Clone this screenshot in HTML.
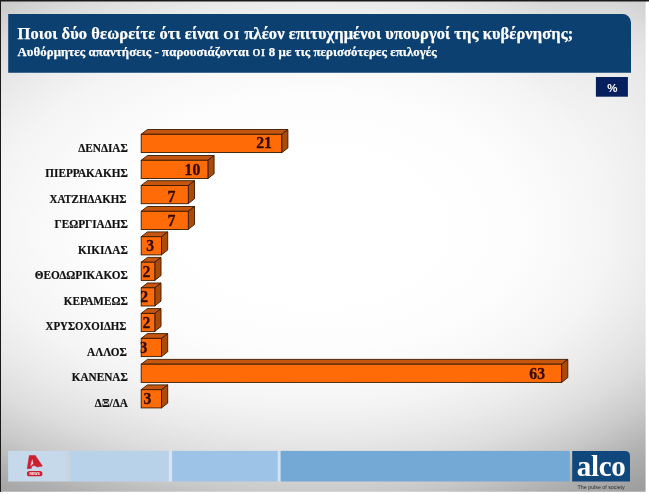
<!DOCTYPE html>
<html lang="el"><head><meta charset="utf-8"><title>alco</title>
<style>
html,body{margin:0;padding:0;background:#fff;}
body{width:649px;height:494px;position:relative;overflow:hidden;font-family:"Liberation Serif",serif;}
#frame{position:absolute;left:0;top:0;width:1px;height:492px;background:#1c1a18;}
#topb{position:absolute;left:0;top:0;width:649px;height:1px;background:#1c1a18;}
#topb2{position:absolute;left:0;top:1px;width:649px;height:1px;background:rgba(28,26,24,.5);}
#wr{position:absolute;left:645px;top:2px;width:1px;height:490px;background:rgba(255,255,255,.4);}
#wb{position:absolute;left:1px;top:491px;width:645px;height:1px;background:rgba(255,255,255,.25);}
#slide{position:absolute;left:1px;top:1px;width:645px;height:491px;
 background:radial-gradient(ellipse 110px 170px at 100% 50px, rgba(255,255,255,.42) 0%, rgba(255,255,255,.3) 40%, rgba(255,255,255,0) 100%) 0 0 / 100% 100% no-repeat,
 radial-gradient(ellipse 838px 502px at 320.0px 231.0px, rgb(255,255,255) 0.0%, rgb(255,255,255) 6.7%, rgb(255,255,255) 13.3%, rgb(254,254,254) 20.0%, rgb(253,253,253) 26.7%, rgb(249,249,249) 33.3%, rgb(244,244,244) 40.0%, rgb(234,234,234) 46.7%, rgb(221,221,221) 53.3%, rgb(201,201,201) 60.0%, rgb(175,175,175) 66.7%, rgb(158,158,158) 73.3%, rgb(158,158,158) 80.0%, rgb(158,158,158) 86.7%, rgb(158,158,158) 93.3%, rgb(158,158,158) 100.0%) 0 0 / 320px 231px no-repeat,
 radial-gradient(ellipse 726px 502px at 0.0px 231.0px, rgb(255,255,255) 0.0%, rgb(255,255,255) 6.7%, rgb(255,255,255) 13.3%, rgb(254,254,254) 20.0%, rgb(253,253,253) 26.7%, rgb(249,249,249) 33.3%, rgb(244,244,244) 40.0%, rgb(234,234,234) 46.7%, rgb(221,221,221) 53.3%, rgb(201,201,201) 60.0%, rgb(175,175,175) 66.7%, rgb(158,158,158) 73.3%, rgb(158,158,158) 80.0%, rgb(158,158,158) 86.7%, rgb(158,158,158) 93.3%, rgb(158,158,158) 100.0%) 320px 0 / 325px 231px no-repeat,
 radial-gradient(ellipse 838px 436px at 320.0px 0.0px, rgb(255,255,255) 0.0%, rgb(255,255,255) 6.7%, rgb(255,255,255) 13.3%, rgb(254,254,254) 20.0%, rgb(253,253,253) 26.7%, rgb(249,249,249) 33.3%, rgb(244,244,244) 40.0%, rgb(234,234,234) 46.7%, rgb(221,221,221) 53.3%, rgb(201,201,201) 60.0%, rgb(175,175,175) 66.7%, rgb(158,158,158) 73.3%, rgb(158,158,158) 80.0%, rgb(158,158,158) 86.7%, rgb(158,158,158) 93.3%, rgb(158,158,158) 100.0%) 0 231px / 320px 260px no-repeat,
 radial-gradient(ellipse 726px 436px at 0.0px 0.0px, rgb(255,255,255) 0.0%, rgb(255,255,255) 6.7%, rgb(255,255,255) 13.3%, rgb(254,254,254) 20.0%, rgb(253,253,253) 26.7%, rgb(249,249,249) 33.3%, rgb(244,244,244) 40.0%, rgb(234,234,234) 46.7%, rgb(221,221,221) 53.3%, rgb(201,201,201) 60.0%, rgb(175,175,175) 66.7%, rgb(158,158,158) 73.3%, rgb(158,158,158) 80.0%, rgb(158,158,158) 86.7%, rgb(158,158,158) 93.3%, rgb(158,158,158) 100.0%) 320px 231px / 325px 260px no-repeat;
}
#t1,#t2{-webkit-text-stroke:.25px #fff;}
#t1{position:absolute;left:17.5px;top:25.1px;font-size:16.47px;letter-spacing:.088px;font-weight:bold;color:#fff;white-space:nowrap;line-height:18px;}
#t2{position:absolute;left:17.5px;top:44.6px;font-size:12.81px;letter-spacing:.07px;font-weight:bold;color:#fff;white-space:nowrap;line-height:14px;}
#t1 i,#t2 i{font-style:normal;font-variant:small-caps;font-size:1.1em;line-height:1px;letter-spacing:.03em;margin-left:.03em;}
#t1 i.w,#t2 i.w{font-size:1.12em;letter-spacing:.05em;margin-left:0;}
#pct{position:absolute;left:596.3px;top:78.1px;width:32px;height:19.7px;color:#fff;font-family:"Liberation Sans",sans-serif;font-weight:bold;font-size:11.5px;line-height:21.5px;text-align:center;}
svg{position:absolute;left:0;top:0;}
.fr{fill:#ff6b06;stroke:#3a1a00;stroke-width:.9;}
.tp{fill:#c6560e;stroke:#3a1a00;stroke-width:.9;stroke-linejoin:round;}
.sd{fill:#ab4a0a;stroke:#3a1a00;stroke-width:.9;stroke-linejoin:round;}
.v{font-family:"Liberation Serif",serif;font-weight:bold;font-size:15.7px;fill:#330a04;stroke:#330a04;stroke-width:.3px;}
.l{font-family:"Liberation Serif",serif;font-weight:bold;font-size:11.25px;fill:#111;stroke:#111;stroke-width:.18px;}
#alco{position:absolute;left:572.2px;top:450.8px;width:58px;height:30.6px;color:#fff;}
#alco span{position:absolute;left:4.6px;top:-1.8px;font-weight:bold;font-size:29px;line-height:34px;letter-spacing:-.35px;}
#pulse{position:absolute;left:577.6px;top:484.3px;font-family:"Liberation Sans",sans-serif;font-size:5.3px;line-height:6px;color:#2a2a2a;white-space:nowrap;}
</style></head><body>
<div id="slide"></div>
<div id="frame"></div><div id="topb"></div><div id="topb2"></div><div id="wr"></div><div id="wb"></div>
<svg width="649" height="494" viewBox="0 0 649 494">
<path d="M8.2 14 H622.5 A8.5 8.5 0 0 1 631 22.5 V72.7 H8.2 Z" fill="#0b4071"/>
<rect x="595.9" y="77" width="32" height="19.7" fill="#06205f"/>
</svg>
<div id="t1">Ποιοι δύο θεωρείτε ότι είναι <i class="w">οι</i> πλέον επιτυχημένοι υπουργοί της κυβέρνησης;</div>
<div id="t2">Αυθόρμητες απαντήσεις - παρουσιάζονται <i class="w">οι</i> 8 με τις περισσότερες επιλογές</div>
<div id="pct">%</div>
<svg width="649" height="494" viewBox="0 0 649 494">
<clipPath id="cl"><rect x="140.7" y="100" width="500" height="330"/></clipPath>
<polygon class="tp" points="141.2,134.3 147.4,129.5 287.9,129.5 281.7,134.3"/>
<polygon class="sd" points="281.7,134.3 287.9,129.5 287.9,147.9 281.7,152.7"/>
<rect class="fr" x="141.2" y="134.3" width="140.5" height="18.2"/>
<text class="v" x="264.0" y="148.3" text-anchor="middle" clip-path="url(#cl)">21</text>
<text class="l" transform="translate(127.8,151.6) scale(1,1.07)" text-anchor="end">ΔΕΝΔΙΑΣ</text>
<polygon class="tp" points="141.2,160.3 147.4,155.5 214.1,155.5 207.9,160.3"/>
<polygon class="sd" points="207.9,160.3 214.1,155.5 214.1,173.7 207.9,178.5"/>
<rect class="fr" x="141.2" y="160.3" width="66.7" height="18.2"/>
<text class="v" x="192.4" y="175.3" text-anchor="middle" clip-path="url(#cl)">10</text>
<text class="l" transform="translate(127.8,177.1) scale(1,1.07)" text-anchor="end">ΠΙΕΡΡΑΚΑΚΗΣ</text>
<polygon class="tp" points="141.2,185.5 147.4,180.7 194.5,180.7 188.3,185.5"/>
<polygon class="sd" points="188.3,185.5 194.5,180.7 194.5,198.8 188.3,203.6"/>
<rect class="fr" x="141.2" y="185.5" width="47.1" height="18.2"/>
<text class="v" x="171.5" y="201.5" text-anchor="middle" clip-path="url(#cl)">7</text>
<text class="l" transform="translate(126.4,202.6) scale(1,1.07)" text-anchor="end" textLength="76.9" lengthAdjust="spacingAndGlyphs">ΧΑΤΖΗΔΑΚΗΣ</text>
<polygon class="tp" points="141.2,211.3 147.4,206.5 194.5,206.5 188.3,211.3"/>
<polygon class="sd" points="188.3,211.3 194.5,206.5 194.5,224.5 188.3,229.3"/>
<rect class="fr" x="141.2" y="211.3" width="47.1" height="18.2"/>
<text class="v" x="171.5" y="225.5" text-anchor="middle" clip-path="url(#cl)">7</text>
<text class="l" transform="translate(127.8,227.8) scale(1,1.07)" text-anchor="end">ΓΕΩΡΓΙΑΔΗΣ</text>
<polygon class="tp" points="141.2,236.7 147.4,231.9 167.7,231.9 161.5,236.7"/>
<polygon class="sd" points="161.5,236.7 167.7,231.9 167.7,250.0 161.5,254.8"/>
<rect class="fr" x="141.2" y="236.7" width="20.3" height="18.2"/>
<text class="v" x="150.2" y="250.8" text-anchor="middle" clip-path="url(#cl)">3</text>
<text class="l" transform="translate(127.8,253.5) scale(1,1.07)" text-anchor="end">ΚΙΚΙΛΑΣ</text>
<polygon class="tp" points="141.2,262.2 147.4,257.4 161.0,257.4 154.8,262.2"/>
<polygon class="sd" points="154.8,262.2 161.0,257.4 161.0,275.6 154.8,280.4"/>
<rect class="fr" x="141.2" y="262.2" width="13.6" height="18.2"/>
<text class="v" x="146.5" y="277.0" text-anchor="middle" clip-path="url(#cl)">2</text>
<text class="l" transform="translate(127.8,279.1) scale(1,1.07)" text-anchor="end">ΘΕΟΔΩΡΙΚΑΚΟΣ</text>
<polygon class="tp" points="141.2,287.8 147.4,283.0 161.0,283.0 154.8,287.8"/>
<polygon class="sd" points="154.8,287.8 161.0,283.0 161.0,301.1 154.8,305.9"/>
<rect class="fr" x="141.2" y="287.8" width="13.6" height="18.2"/>
<text class="v" x="144.2" y="301.7" text-anchor="middle" clip-path="url(#cl)">2</text>
<text class="l" transform="translate(127.8,304.6) scale(1,1.07)" text-anchor="end">ΚΕΡΑΜΕΩΣ</text>
<polygon class="tp" points="141.2,313.4 147.4,308.6 161.0,308.6 154.8,313.4"/>
<polygon class="sd" points="154.8,313.4 161.0,308.6 161.0,326.5 154.8,331.3"/>
<rect class="fr" x="141.2" y="313.4" width="13.6" height="18.2"/>
<text class="v" x="146.5" y="327.7" text-anchor="middle" clip-path="url(#cl)">2</text>
<text class="l" transform="translate(126.4,330.1) scale(1,1.07)" text-anchor="end" textLength="80.8" lengthAdjust="spacingAndGlyphs">ΧΡΥΣΟΧΟΙΔΗΣ</text>
<polygon class="tp" points="141.2,338.4 147.4,333.6 167.7,333.6 161.5,338.4"/>
<polygon class="sd" points="161.5,338.4 167.7,333.6 167.7,351.8 161.5,356.6"/>
<rect class="fr" x="141.2" y="338.4" width="20.3" height="18.2"/>
<text class="v" x="143.3" y="353.0" text-anchor="middle" clip-path="url(#cl)">3</text>
<text class="l" transform="translate(126.8,355.6) scale(1,1.07)" text-anchor="end">ΑΛΛΟΣ</text>
<polygon class="tp" points="141.2,364.2 147.4,359.4 567.8,359.4 561.6,364.2"/>
<polygon class="sd" points="561.6,364.2 567.8,359.4 567.8,377.6 561.6,382.4"/>
<rect class="fr" x="141.2" y="364.2" width="420.4" height="18.2"/>
<text class="v" x="537.2" y="379.0" text-anchor="middle" clip-path="url(#cl)">63</text>
<text class="l" transform="translate(127.8,381.2) scale(1,1.07)" text-anchor="end">ΚΑΝΕΝΑΣ</text>
<polygon class="tp" points="141.2,389.7 147.4,384.9 167.7,384.9 161.5,389.7"/>
<polygon class="sd" points="161.5,389.7 167.7,384.9 167.7,403.1 161.5,407.9"/>
<rect class="fr" x="141.2" y="389.7" width="20.3" height="18.2"/>
<text class="v" x="147.5" y="404.3" text-anchor="middle" clip-path="url(#cl)">3</text>
<text class="l" transform="translate(127.8,406.7) scale(1,1.07)" text-anchor="end">ΔΞ/ΔΑ</text>
</svg>
<svg width="649" height="494" viewBox="0 0 649 494">
<rect x="66" y="450.9" width="5" height="30.6" fill="#c9d4dd"/>
<rect x="168" y="450.9" width="5" height="30.6" fill="#d9e4ef"/>
<rect x="277" y="450.9" width="4" height="30.6" fill="#d3e3f1"/>
<rect x="8.1" y="450.9" width="58.4" height="30.6" fill="#c5d9ea"/>
<rect x="70.1" y="450.9" width="98.7" height="30.6" fill="#b8d3e9"/>
<rect x="172.1" y="450.9" width="105.6" height="30.6" fill="#9dc4e6"/>
<rect x="280.6" y="450.9" width="289.2" height="30.6" fill="#74a9d6"/>
<path d="M572.2 450.9 H625 A5 5 0 0 1 630 455.9 V481.6 H572.2 Z" fill="#10487d"/>
<path d="M29.3 455.5 L35.3 455.5 L42.4 466.1 L37.6 467 L34.4 465.6 L31.7 466.2 L31.3 468.4 L27.2 468.7 Z" fill="#cb1f2f" stroke="#cb1f2f" stroke-width=".5" stroke-linejoin="round"/>
<path d="M32.2 459 L33.3 463.8 L30.3 466.2 Z" fill="#f3d3d9"/>
<rect x="26.9" y="471" width="15.5" height="5.3" rx="2.65" fill="#cb1f2f"/>
<text x="34.7" y="474.9" text-anchor="middle" font-family="Liberation Sans, sans-serif" font-weight="bold" font-size="3.4" fill="#fff">NEWS</text>
</svg>
<div id="alco"><span>alco</span></div>
<div id="pulse">The pulse of society</div>
</body></html>
